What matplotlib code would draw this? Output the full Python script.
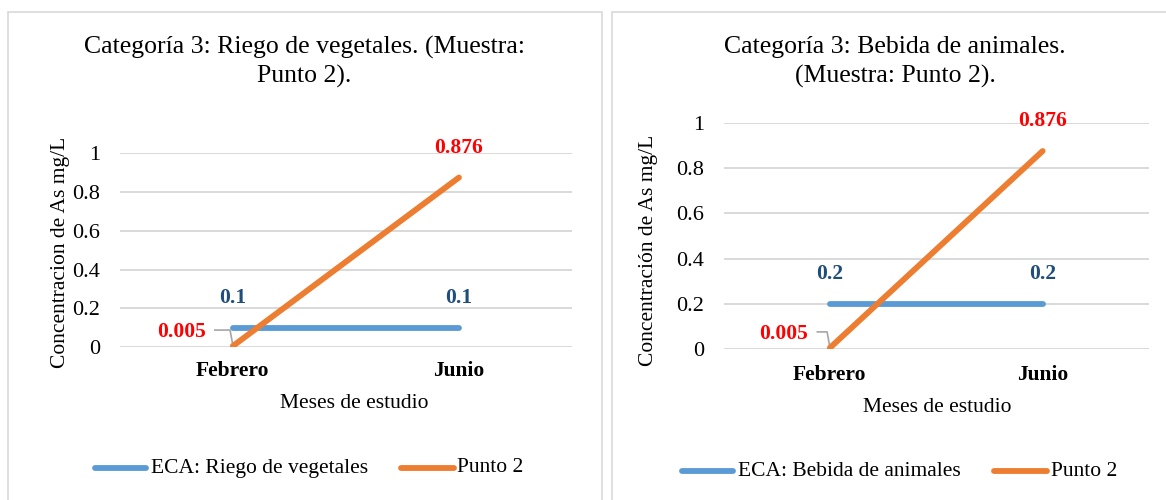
import matplotlib
matplotlib.use("Agg")
import matplotlib.pyplot as plt
import matplotlib.transforms as mtrans
from matplotlib.patches import Rectangle
from matplotlib.lines import Line2D

plt.rcParams['font.family'] = ['Liberation Serif', 'DejaVu Serif']

months = ["Febrero", "Junio"]
eca_riego = [0.1, 0.1]
eca_bebida = [0.2, 0.2]
punto2 = [0.005, 0.876]
yticks = [0, 0.2, 0.4, 0.6, 0.8, 1]
ytick_labels = ["0", "0.2", "0.4", "0.6", "0.8", "1"]

W, H = 1166, 500
fig = plt.figure(figsize=(W / 100, H / 100), dpi=100)

BLUE = "#5B9BD5"
ORANGE = "#ED7D31"
DARKBLUE = "#1F4E79"
RED = "#FF0000"
GRID = "#D9D9D9"
LW = 4.2
FS = 15.5


def fx(px):
    return px / W


def fy(py):
    return 1 - py / H


# panel borders
for x0, x1 in [(8, 602), (612, 1175)]:
    fig.patches.append(Rectangle((fx(x0), fy(512)), fx(x1 - x0), (512 - 11.5) / H,
                                 transform=fig.transFigure, fill=False,
                                 edgecolor="#D9D9D9", linewidth=1.2))


def panel(ax_px, eca, eca_label, title, title_x, ylabel, ylabel_x, ylabel_y,
          xtick_y, xlabel_x, xlabel_y, legend_y, leg_blue, leg_orange, lab_dx, lead_dx):
    left, right, top, bottom = ax_px
    ax = fig.add_axes([fx(left), fy(bottom), fx(right - left), (bottom - top) / H])
    x = [0, 1]
    ax.plot(x, eca, color=BLUE, lw=LW, solid_capstyle="round", zorder=3)
    ax.plot(x, punto2, color=ORANGE, lw=LW, solid_capstyle="round", zorder=4)
    ax.set_xlim(-0.5, 1.5)
    ax.set_ylim(0, 1)
    ax.set_yticks(yticks)
    ax.set_yticklabels(ytick_labels, fontsize=16)
    ax.tick_params(axis="y", length=0, pad=14)
    ax.set_xticks([])
    ax.grid(axis="y", color=GRID, lw=1.4, zorder=0)
    ax.set_axisbelow(True)
    for s in ax.spines.values():
        s.set_visible(False)
    # data labels
    for xi, v in zip(x, eca):
        ax.annotate(f"{v:g}", (xi, v), xytext=(0, 21.5), textcoords="offset points",
                    ha="center", va="center", color=DARKBLUE, fontsize=FS,
                    fontweight="bold")
    ax.annotate(f"{punto2[1]:g}", (1, punto2[1]), xytext=(0, 21.5), textcoords="offset points",
                ha="center", va="center", color=RED, fontsize=FS, fontweight="bold")
    ax.annotate(f"{punto2[0]:g}", (0, punto2[0]), xytext=(lab_dx, 10), textcoords="offset points",
                ha="right", va="center", color=RED, fontsize=FS, fontweight="bold")
    # leader line (in points relative to the data point)
    pt = ax.transData.transform((0, punto2[0]))
    tr = mtrans.Affine2D().scale(fig.dpi / 72).translate(*pt)
    ax.add_line(Line2D([lead_dx, -2, 0], [11.5, 11.5, 0.5], transform=tr,
                       color="#A6A6A6", lw=1.2, clip_on=False, zorder=2))
    # month tick labels
    for xi, m in zip(x, months):
        fig.text(fx(left + (right - left) * (0.25 + 0.5 * xi)), fy(xtick_y), m,
                 ha="center", va="center", fontsize=FS, fontweight="bold")
    fig.text(fx(xlabel_x), fy(xlabel_y), "Meses de estudio",
             ha="center", va="center", fontsize=FS)
    fig.text(fx(title_x), fy(62), title, ha="center", va="center",
             fontsize=18.5, linespacing=1.38)
    fig.text(fx(ylabel_x), fy(ylabel_y), ylabel, rotation=90,
             ha="center", va="center", fontsize=FS)
    # legend
    (b0, b1, bt), (o0, o1, ot) = leg_blue, leg_orange
    fig.add_artist(Line2D([fx(b0), fx(b1)], [fy(legend_y), fy(legend_y)], color=BLUE, lw=LW,
                          solid_capstyle="round", transform=fig.transFigure))
    fig.text(fx(bt), fy(legend_y), eca_label, ha="left", va="center", fontsize=FS)
    fig.add_artist(Line2D([fx(o0), fx(o1)], [fy(legend_y), fy(legend_y)], color=ORANGE, lw=LW,
                          solid_capstyle="round", transform=fig.transFigure))
    fig.text(fx(ot), fy(legend_y), "Punto 2", ha="left", va="center", fontsize=FS)
    return ax


panel((119.8, 572, 153.5, 347), eca_riego, "ECA: Riego de vegetales",
      "Categoría 3: Riego de vegetales. (Muestra:\nPunto 2).", 304,
      "Concentracion de As mg/L", 60, 252, 371, 354, 403, 468,
      (95, 146, 151), (401, 454, 457), -19.5, -13)

panel((723.5, 1149, 123, 349), eca_bebida, "ECA: Bebida de animales",
      "Categoría 3: Bebida de animales.\n(Muestra: Punto 2).", 895,
      "Concentración de As mg/L", 649, 250, 375, 937, 407, 471,
      (682, 733, 738), (994, 1047, 1051), -15.5, -9)

fig.savefig("out.png", dpi=100)
